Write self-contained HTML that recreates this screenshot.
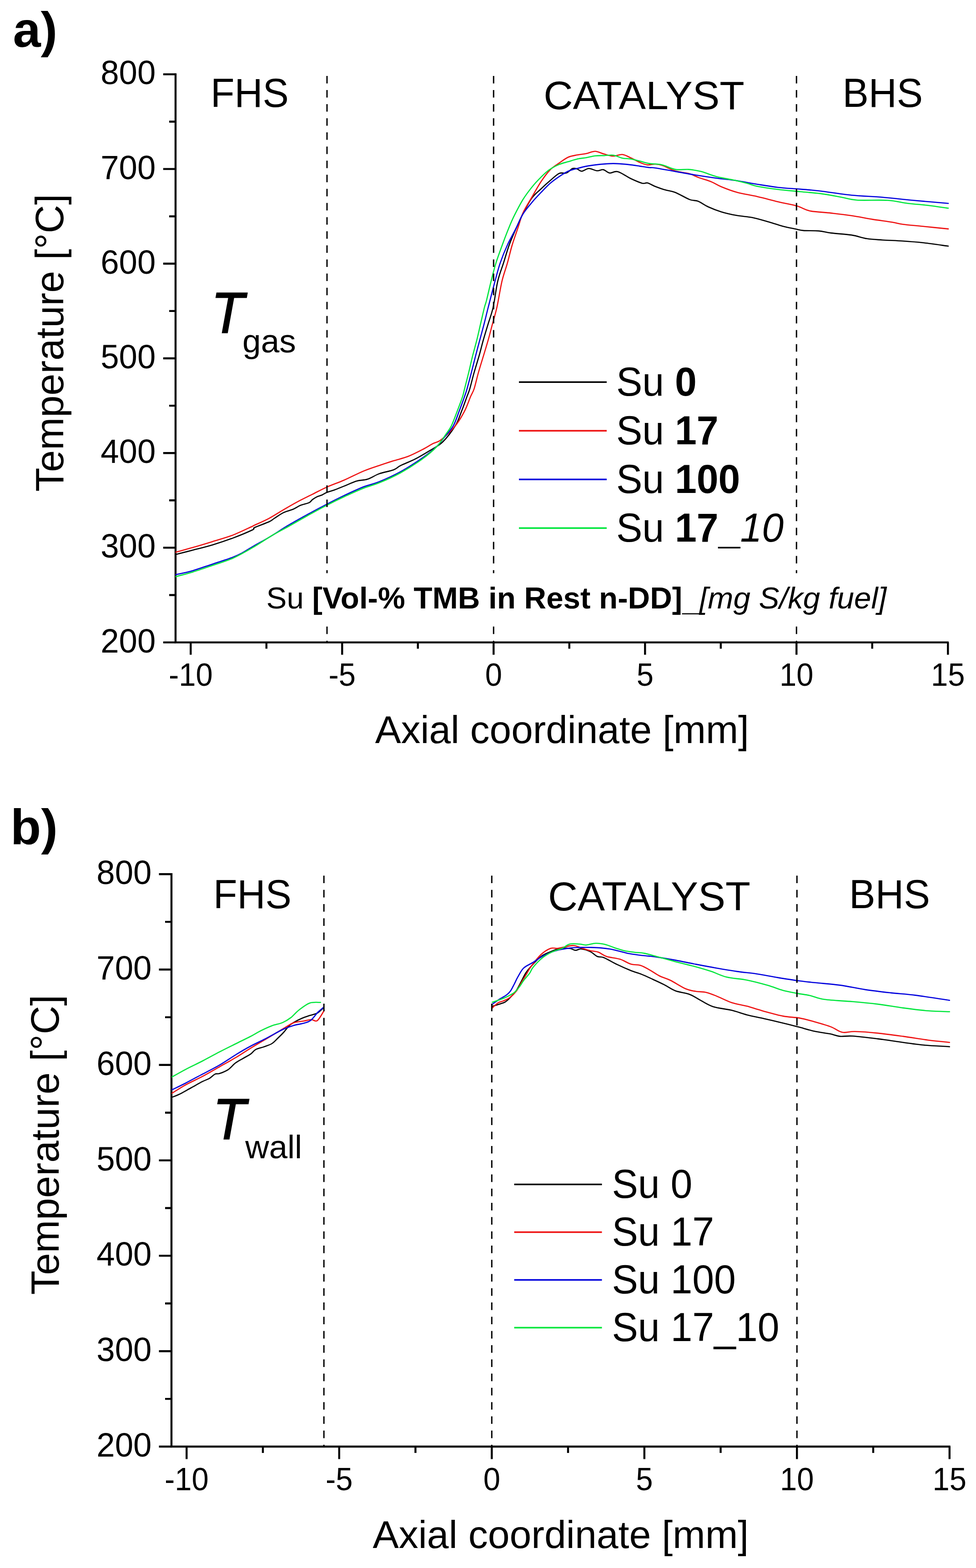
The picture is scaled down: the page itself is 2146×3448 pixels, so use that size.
<!DOCTYPE html>
<html><head><meta charset="utf-8"><title>Temperature profiles</title>
<style>html,body{margin:0;padding:0;background:#fff;}svg{display:block;}text{font-family:"Liberation Sans",Arial,sans-serif;fill:#000;}</style>
</head><body>
<svg width="2146" height="3448" viewBox="0 0 2146 3448">
<rect width="2146" height="3448" fill="#fff"/>
<text x="28.4" y="102.5" font-size="110" font-weight="bold">a)</text>
<path d="M386,161.3V1414.6M384,1412.6H2085.9" stroke="#000" stroke-width="4.4" fill="none"/>
<path d="M358.8,1412.6H386M358.8,1204.4H386M358.8,996.2H386M358.8,788H386M358.8,579.8H386M358.8,371.6H386M358.8,163.4H386M372,1308.5H386M372,1100.3H386M372,892.1H386M372,683.9H386M372,475.7H386M372,267.5H386M419.3,1412.6V1439.8M752.3,1412.6V1439.8M1085.3,1412.6V1439.8M1418.3,1412.6V1439.8M1751.3,1412.6V1439.8M2084.3,1412.6V1439.8M585.8,1412.6V1426.6M918.8,1412.6V1426.6M1251.8,1412.6V1426.6M1584.8,1412.6V1426.6M1917.8,1412.6V1426.6" stroke="#000" stroke-width="4.4" fill="none"/>
<text transform="translate(342.3,1434.6) scale(1,1.02)" text-anchor="end" font-size="72.6">200</text>
<text transform="translate(342.3,1226.4) scale(1,1.02)" text-anchor="end" font-size="72.6">300</text>
<text transform="translate(342.3,1018.2) scale(1,1.02)" text-anchor="end" font-size="72.6">400</text>
<text transform="translate(342.3,810) scale(1,1.02)" text-anchor="end" font-size="72.6">500</text>
<text transform="translate(342.3,601.8) scale(1,1.02)" text-anchor="end" font-size="72.6">600</text>
<text transform="translate(342.3,393.6) scale(1,1.02)" text-anchor="end" font-size="72.6">700</text>
<text transform="translate(342.3,185.4) scale(1,1.02)" text-anchor="end" font-size="72.6">800</text>
<text transform="translate(419.3,1507.5) scale(1,1.06)" text-anchor="middle" font-size="67">-10</text>
<text transform="translate(752.3,1507.5) scale(1,1.06)" text-anchor="middle" font-size="67">-5</text>
<text transform="translate(1085.3,1507.5) scale(1,1.06)" text-anchor="middle" font-size="67">0</text>
<text transform="translate(1418.3,1507.5) scale(1,1.06)" text-anchor="middle" font-size="67">5</text>
<text transform="translate(1751.3,1507.5) scale(1,1.06)" text-anchor="middle" font-size="67">10</text>
<text transform="translate(2084.3,1507.5) scale(1,1.06)" text-anchor="middle" font-size="67">15</text>
<path d="M386.5,1219.3C392.7,1217.7 410.1,1213.3 423.6,1209.8C437.1,1206.3 452.7,1202.6 467.3,1198.2C481.9,1193.8 496.4,1189 511,1183.6C525.5,1178.1 546.4,1169.4 554.6,1165.5C562.8,1161.6 553.8,1163 560,1160C566.2,1157 584.5,1150.5 591.7,1147.2C598.9,1143.9 597.7,1143.3 603,1140C608.3,1136.7 616.5,1130.5 623.5,1127.1C630.5,1123.7 638.5,1122.3 644.7,1119.7C650.9,1117.1 654.7,1113.7 660.5,1111.3C666.3,1108.9 675.2,1107.5 679.6,1105.4C684,1103.3 684,1100.8 687,1098.6C690,1096.4 694.1,1093.9 697.6,1092.2C701.1,1090.5 704.4,1090.1 708,1088.5C711.6,1086.9 714.6,1084.4 719.2,1082.5C723.8,1080.6 729.5,1079.5 735.8,1077.2C742,1074.9 748.6,1072.1 756.7,1068.9C764.8,1065.7 775.9,1060.3 784.4,1057.8C792.9,1055.3 799.8,1056.4 808,1053.8C816.2,1051.2 824,1045.3 833.5,1041.9C843,1038.5 857.3,1036.2 865.2,1033.2C873.1,1030.2 873,1027.7 881,1023.7C889,1019.7 902.3,1014.8 912.9,1009.4C923.5,1004 934.5,997.3 944.6,991.1C954.7,984.9 963.8,981.1 973.2,972C982.6,962.9 994,947.6 1001,936.3C1008,925 1010.6,914.9 1014.9,904.2C1019.2,893.5 1023.7,880.3 1026.7,872.1C1029.7,863.9 1030.4,863.6 1033,854.8C1035.6,845.9 1039.1,830.9 1042.5,819C1045.9,807.1 1049.8,795.1 1053.2,783.2C1056.6,771.3 1059.4,759.3 1062.8,747.4C1066.2,735.5 1069.9,723.5 1073.5,711.6C1077.1,699.7 1080.8,691.3 1084.3,675.8C1087.8,660.3 1090.6,634.6 1094.4,618.4C1098.2,602.2 1102.8,591.9 1107,578.7C1111.2,565.5 1114.7,552.2 1119.5,539C1124.3,525.8 1130.9,511 1136,499.4C1141.1,487.8 1144.4,480.2 1150,469.5C1155.6,458.8 1163.2,444.1 1169.8,435C1176.4,425.9 1183.1,421.5 1189.7,415.2C1196.3,408.9 1202.9,402.9 1209.5,397.3C1216.1,391.7 1223.5,384.2 1229.4,381.4C1235.4,378.6 1240.2,382.2 1245.2,380.4C1250.2,378.6 1255.1,372 1259.1,370.5C1263.1,369 1265.7,370.5 1269,371.5C1272.3,372.5 1274.7,376.7 1279,376.5C1283.3,376.3 1289.2,370.7 1294.8,370.5C1300.4,370.3 1307.4,375.1 1312.7,375.5C1318,375.9 1322,372.3 1326.6,373.1C1331.2,373.9 1335.2,379.7 1340.5,380.4C1345.8,381.1 1350.4,375.4 1358.3,377.5C1366.2,379.6 1379.2,389.1 1388.1,393.3C1397,397.5 1406,401.4 1411.9,402.9C1417.9,404.4 1419.1,401.2 1423.8,402.3C1428.5,403.4 1433.5,407.1 1440,409.7C1446.5,412.2 1455,415.4 1462.5,417.6C1470,419.9 1476,419.6 1485,423.2C1494,426.8 1508.3,435.7 1516.5,438.9C1524.7,442.1 1527.7,439.7 1534.4,442.3C1541.1,444.9 1548.3,450.8 1556.9,454.7C1565.5,458.6 1575.7,462.7 1586.2,465.9C1596.7,469.1 1608.7,471.7 1619.9,473.8C1631.1,475.9 1642.3,476.1 1653.6,478.3C1664.8,480.6 1676.2,484.1 1687.4,487.3C1698.7,490.5 1710.6,494.7 1721.1,497.4C1731.6,500.1 1742.8,502.1 1750.3,503.7C1757.8,505.3 1757.7,506.2 1766.1,506.9C1774.5,507.6 1790.3,507 1800.5,507.9C1810.7,508.8 1815.5,510.9 1827.5,512.4C1839.5,513.9 1859.3,514.8 1872.4,516.9C1885.5,519 1895,523 1906.2,524.8C1917.5,526.6 1926.8,526.8 1939.9,527.7C1953,528.6 1969.9,529 1984.9,530C1999.9,531 2013.1,531.9 2029.8,533.8C2046.5,535.7 2075.8,540 2085,541.2" stroke="#000000" stroke-width="2.6" fill="none" stroke-linejoin="round" stroke-linecap="round"/>
<path d="M386.5,1214.2C392.7,1212.5 410.1,1207.9 423.6,1204C437.1,1200.1 452.7,1195.4 467.3,1190.9C481.9,1186.4 496.4,1182.7 511,1177.1C525.5,1171.5 546.4,1161.2 554.6,1157.5C562.8,1153.8 553.8,1157.7 560,1154.7C566.2,1151.8 581.1,1145.5 591.7,1139.8C602.3,1134.1 612.9,1127 623.5,1120.8C634.1,1114.6 644.6,1108.4 655.2,1102.8C665.8,1097.2 676.4,1092.2 687,1086.9C697.6,1081.6 707.1,1076.3 718.7,1071.1C730.3,1065.9 743.2,1061.6 756.7,1055.7C770.2,1049.8 787.2,1040.9 800,1035.6C812.8,1030.3 822.6,1027.4 833.5,1023.7C844.4,1020 854.6,1016.6 865.2,1013.3C875.8,1010 886.4,1007.9 897,1003.8C907.6,999.7 919.5,993.5 928.7,988.7C938,983.9 945.6,978.8 952.5,975.2C959.4,971.6 961.9,973.5 970,967C978.1,960.5 992.6,946.8 1001.2,936.3C1009.8,925.8 1015.8,914.9 1021.4,904.2C1027,893.5 1031.2,880.3 1034.7,872.1C1038.2,863.9 1039.6,863.6 1042.5,854.8C1045.4,845.9 1048.6,830.9 1052,819C1055.4,807.1 1059.2,795.1 1062.8,783.2C1066.4,771.3 1070.1,759.3 1073.5,747.4C1076.9,735.5 1079.8,723.5 1083,711.6C1086.2,699.7 1089.1,691.3 1092.6,675.8C1096,660.3 1099.9,634.6 1103.7,618.4C1107.5,602.2 1111.9,591.9 1115.6,578.7C1119.3,565.5 1122.1,552.2 1126.1,539C1130.1,525.8 1135.4,511.2 1139.4,499.4C1143.4,487.6 1144.9,479.1 1150,468C1155.1,456.9 1163.2,444.4 1169.8,433C1176.4,421.6 1183.1,409.2 1189.7,399.3C1196.3,389.4 1202.9,380.3 1209.5,373.5C1216.1,366.7 1222.8,363.2 1229.4,358.6C1236,354 1242.6,348.7 1249.2,345.7C1255.8,342.7 1262.4,342.1 1269,340.8C1275.6,339.5 1282.3,339.1 1288.9,337.8C1295.5,336.5 1302.1,332.6 1308.7,332.8C1315.3,333 1322,337.1 1328.6,338.8C1335.2,340.6 1341.8,343.1 1348.4,343.3C1355,343.5 1361.7,339.1 1368.3,339.8C1374.9,340.5 1381.5,344.7 1388.1,347.7C1394.7,350.7 1402,355.1 1407.9,357.6C1413.9,360.1 1418.5,362 1423.8,362.6C1429.1,363.2 1434.7,360.8 1440,361C1445.3,361.2 1448.2,361.1 1455.7,363.6C1463.2,366.1 1475.2,373 1485,376C1494.8,379 1505.6,379.2 1514.2,381.6C1522.8,384 1528.5,387.6 1536.7,390.6C1545,393.6 1555.5,396.2 1563.7,399.6C1572,403 1576.8,406.9 1586.2,410.8C1595.6,414.7 1606.8,419.2 1619.9,422.8C1633,426.4 1649.9,428.8 1664.9,432.2C1679.9,435.6 1695.6,440 1709.8,443.4C1724,446.8 1741.9,450.3 1750.3,452.4C1758.7,454.5 1754.6,453.9 1760,455.8C1765.4,457.8 1771.2,462 1782.5,464.1C1793.8,466.2 1812.5,466.9 1827.5,468.6C1842.5,470.3 1857.4,471.9 1872.4,474.2C1887.4,476.4 1902.4,479.7 1917.4,482.1C1932.4,484.5 1951.2,486.9 1962.4,488.8C1973.7,490.7 1973.7,491.8 1984.9,493.3C1996.1,494.8 2013.1,496.1 2029.8,497.8C2046.5,499.5 2075.8,502.5 2085,503.4" stroke="#ee1111" stroke-width="2.6" fill="none" stroke-linejoin="round" stroke-linecap="round"/>
<path d="M386.5,1263.7C392.7,1262.2 410.1,1258.8 423.6,1254.9C437.1,1251 452.7,1245.2 467.3,1240.4C481.9,1235.6 500.1,1229.9 511,1225.8C521.9,1221.7 525.5,1219.6 532.8,1215.7C540.1,1211.8 544.4,1208.5 554.6,1202.6C564.8,1196.6 581.4,1187.7 594.2,1180C607.1,1172.3 618.5,1164.3 631.7,1156.4C644.9,1148.5 659.4,1140.4 673.3,1132.8C687.2,1125.2 701.1,1117.8 715,1110.6C728.9,1103.4 742.5,1096.4 756.7,1089.7C770.9,1083 787.2,1075.3 800,1070.3C812.8,1065.2 820,1064.9 833.5,1059.4C847,1053.9 865.1,1045.8 881,1037.1C896.9,1028.4 915.5,1016.2 928.7,1007C942,997.8 952.6,989 960.5,981.6C968.4,974.2 970.3,970 976.3,962.5C982.3,955 991.2,946 996.7,936.3C1002.2,926.6 1005.5,914.9 1009.6,904.2C1013.7,893.5 1018.5,880.3 1021.4,872.1C1024.3,863.9 1024.5,863.6 1027,854.8C1029.5,845.9 1033.4,830.9 1036.5,819C1039.6,807.1 1042.4,795.1 1045.5,783.2C1048.6,771.3 1051.8,759.3 1055,747.4C1058.2,735.5 1061.5,723.5 1064.6,711.6C1067.7,699.7 1069.5,691.3 1073.5,675.8C1077.5,660.3 1084,634.6 1088.4,618.4C1092.8,602.2 1095.2,591.9 1099.7,578.7C1104.2,565.5 1109.5,552.2 1115.6,539C1121.6,525.8 1130.3,510.8 1136,499.4C1141.7,488 1144.4,479.6 1150,470.5C1155.6,461.4 1163.2,452.8 1169.8,444.9C1176.4,437 1183.1,430 1189.7,423.1C1196.3,416.2 1202.9,409.1 1209.5,403.3C1216.1,397.5 1222.8,392.9 1229.4,388.4C1236,383.9 1242.6,379.5 1249.2,376.5C1255.8,373.5 1262.4,372.3 1269,370.5C1275.6,368.7 1282.3,366.9 1288.9,365.6C1295.5,364.3 1302.1,363.4 1308.7,362.6C1315.3,361.8 1322,361.1 1328.6,360.6C1335.2,360.1 1341.8,359.6 1348.4,359.6C1355,359.6 1361.7,360.1 1368.3,360.6C1374.9,361.1 1381.5,361.8 1388.1,362.6C1394.7,363.4 1401.3,364.6 1407.9,365.6C1414.5,366.6 1422.5,367.9 1427.8,368.5C1433.1,369.1 1430.5,367.8 1440,369.2C1449.5,370.6 1470,374.5 1485,377.1C1500,379.7 1515,382.6 1530,385C1545,387.4 1559.9,389.6 1574.9,391.7C1589.9,393.8 1604.9,395.1 1619.9,397.3C1634.9,399.6 1649.9,402.8 1664.9,405.2C1679.9,407.6 1695.6,410.3 1709.8,412C1724,413.7 1738.6,414.4 1750.3,415.3C1762,416.2 1770.9,416.8 1780,417.6C1789.1,418.4 1789.6,418.3 1805,420.2C1820.4,422.1 1849.9,426.9 1872.4,429.2C1894.9,431.4 1917.4,431.8 1939.9,433.7C1962.4,435.6 1983.2,438.2 2007.4,440.5C2031.6,442.8 2072.1,446.1 2085,447.2" stroke="#0000dd" stroke-width="2.6" fill="none" stroke-linejoin="round" stroke-linecap="round"/>
<path d="M386.5,1268C392.7,1266.3 410.1,1262 423.6,1257.9C437.1,1253.8 452.7,1248.3 467.3,1243.3C481.9,1238.3 496.4,1234.4 511,1228C525.5,1221.6 539.8,1213.3 554.6,1204.7C569.4,1196.1 587.1,1184 600,1176.4C612.9,1168.8 619.5,1165.8 631.7,1159C643.9,1152.2 659.4,1143.2 673.3,1135.5C687.2,1127.8 701.1,1120 715,1112.8C728.9,1105.6 742.5,1098.9 756.7,1092.3C770.9,1085.7 787.2,1078.4 800,1073.3C812.8,1068.2 820,1067.4 833.5,1061.8C847,1056.2 865.1,1048.3 881,1039.5C896.9,1030.7 915.5,1018.8 928.7,1009.2C942,999.6 952,990.8 960.5,982C969,973.2 974.2,963.8 979.5,956.2C984.8,948.6 988.2,945 992.5,936.3C996.8,927.6 1001.2,914.9 1005.3,904.2C1009.4,893.5 1014.4,880.3 1017.1,872.1C1019.8,863.9 1019.2,863.6 1021.5,854.8C1023.8,845.9 1027.7,830.9 1030.6,819C1033.5,807.1 1036,795.1 1039,783.2C1042,771.3 1045.5,759.3 1048.5,747.4C1051.5,735.5 1054,723.5 1056.8,711.6C1059.6,699.7 1063,684.4 1065.2,675.8C1067.4,667.2 1067.5,669.6 1069.9,660C1072.3,650.4 1076.4,631.9 1079.8,618.4C1083.2,604.9 1086.3,591.9 1090.4,578.7C1094.5,565.5 1099.5,552.2 1104.3,539C1109.1,525.8 1115,510.4 1119.5,499.4C1124,488.4 1126.3,483 1131.4,472.9C1136.5,462.8 1143.6,448.8 1150,438.5C1156.4,428.2 1163.2,419.4 1169.8,411.2C1176.4,403 1183.4,395.7 1189.7,389.4C1196,383.1 1200.9,378.1 1207.5,373.5C1214.1,368.9 1222.5,364.6 1229.4,361.6C1236.4,358.6 1242.6,357.6 1249.2,355.6C1255.8,353.6 1262.4,351.2 1269,349.7C1275.6,348.2 1282.3,347.9 1288.9,346.7C1295.5,345.5 1302.1,343.5 1308.7,342.7C1315.3,341.9 1322,342.3 1328.6,342.1C1335.2,341.9 1341.8,340.4 1348.4,341.3C1355,342.2 1361.7,346.3 1368.3,347.7C1374.9,349.1 1381.5,348.5 1388.1,349.7C1394.7,350.9 1401.3,353 1407.9,354.6C1414.5,356.2 1419.8,358.3 1427.8,359.6C1435.8,360.9 1446.2,360.3 1455.7,362.5C1465.2,364.7 1475.2,370.9 1485,372.6C1494.8,374.3 1504.8,371.9 1514.2,372.6C1523.6,373.4 1531.1,374.5 1541.2,377.1C1551.3,379.7 1563.7,385.3 1574.9,388.3C1586.2,391.3 1597.5,392.7 1608.7,395.1C1620,397.6 1633,400.6 1642.4,403C1651.8,405.4 1653.7,407.4 1664.9,409.7C1676.1,411.9 1694,414.5 1709.8,416.5C1725.6,418.5 1744.1,419.9 1760,421.5C1775.9,423.1 1790,423.9 1805,425.9C1820,427.9 1836.9,431.3 1850,433.7C1863.1,436.1 1866.9,438.9 1883.7,440C1900.5,441.1 1932.4,439.3 1951.1,440.5C1969.8,441.7 1981.1,445.3 1996.1,447.2C2011.1,449.1 2026.3,449.9 2041.1,451.7C2055.9,453.5 2077.7,456.8 2085,457.8" stroke="#00e63c" stroke-width="2.6" fill="none" stroke-linejoin="round" stroke-linecap="round"/>
<path d="M719,166.9V1411" stroke="#000" stroke-width="3" stroke-dasharray="16.5 14.55" fill="none"/>
<path d="M1085.3,166.9V1411" stroke="#000" stroke-width="3" stroke-dasharray="16.5 14.55" fill="none"/>
<path d="M1751.3,166.9V1411" stroke="#000" stroke-width="3" stroke-dasharray="16.5 14.55" fill="none"/>
<text transform="translate(462.9,234.8) scale(1,1.03)" font-size="86">FHS</text>
<text transform="translate(1195.3,239.7) scale(1,1.02)" font-size="86" textLength="441.5" lengthAdjust="spacingAndGlyphs">CATALYST</text>
<text transform="translate(1852.4,235.2) scale(1,1.03)" font-size="86">BHS</text>
<text transform="translate(139.4,753.8) rotate(-90)" text-anchor="middle" font-size="86.5">Temperature [°C]</text>
<text x="824.8" y="1634.3" font-size="85.5">Axial coordinate [mm]</text>
<text transform="translate(464.4,731.1) scale(1,1.075)" font-size="118" font-style="italic" stroke="#000" stroke-width="2.2" stroke-linejoin="miter">T</text>
<text x="533.1" y="774.6" font-size="73">gas</text>
<path d="M1141,840.2H1334" stroke="#000000" stroke-width="3.5"/>
<text transform="translate(1354.9,869.6) scale(1,1.04)" font-size="86" xml:space="preserve">Su <tspan font-weight="bold">0</tspan></text>
<path d="M1141,947.2H1334" stroke="#ee1111" stroke-width="3.5"/>
<text transform="translate(1354.9,976.6) scale(1,1.04)" font-size="86" xml:space="preserve">Su <tspan font-weight="bold">17</tspan></text>
<path d="M1141,1054.2H1334" stroke="#0000dd" stroke-width="3.5"/>
<text transform="translate(1354.9,1083.6) scale(1,1.04)" font-size="86" xml:space="preserve">Su <tspan font-weight="bold">100</tspan></text>
<path d="M1141,1161.2H1334" stroke="#00e63c" stroke-width="3.5"/>
<text transform="translate(1354.9,1190.6) scale(1,1.04)" font-size="86" xml:space="preserve">Su <tspan font-weight="bold">17</tspan><tspan font-weight="bold" dy="3.8">_</tspan><tspan font-style="italic" dy="-3.8">10</tspan></text>
<rect x="575" y="1260.4" width="1395" height="116.6" fill="#fff"/>
<text x="585.5" y="1337.8" font-size="67.3" xml:space="preserve">Su <tspan font-weight="bold">[Vol-% TMB in Rest n-DD]</tspan><tspan font-weight="bold" dy="5">_</tspan><tspan font-style="italic" dy="-5">[mg S/kg fuel]</tspan></text>
<text x="23" y="1856" font-size="110" font-weight="bold">b)</text>
<path d="M377,1920V3183M375,3181H2089.7" stroke="#000" stroke-width="4.4" fill="none"/>
<path d="M349.5,3181H377M349.5,2971.2H377M349.5,2761.4H377M349.5,2551.6H377M349.5,2341.8H377M349.5,2132H377M349.5,1922.2H377M363,3076.1H377M363,2866.3H377M363,2656.5H377M363,2446.7H377M363,2236.9H377M363,2027.1H377M410.3,3181V3208.5M745.8,3181V3208.5M1081.3,3181V3208.5M1416.8,3181V3208.5M1752.3,3181V3208.5M2087.8,3181V3208.5M578,3181V3195M913.5,3181V3195M1249,3181V3195M1584.5,3181V3195M1920,3181V3195" stroke="#000" stroke-width="4.4" fill="none"/>
<text transform="translate(333.4,3203) scale(1,1.02)" text-anchor="end" font-size="72.6">200</text>
<text transform="translate(333.4,2993.2) scale(1,1.02)" text-anchor="end" font-size="72.6">300</text>
<text transform="translate(333.4,2783.4) scale(1,1.02)" text-anchor="end" font-size="72.6">400</text>
<text transform="translate(333.4,2573.6) scale(1,1.02)" text-anchor="end" font-size="72.6">500</text>
<text transform="translate(333.4,2363.8) scale(1,1.02)" text-anchor="end" font-size="72.6">600</text>
<text transform="translate(333.4,2154) scale(1,1.02)" text-anchor="end" font-size="72.6">700</text>
<text transform="translate(333.4,1944.2) scale(1,1.02)" text-anchor="end" font-size="72.6">800</text>
<text transform="translate(410.3,3277) scale(1,1.06)" text-anchor="middle" font-size="67">-10</text>
<text transform="translate(745.8,3277) scale(1,1.06)" text-anchor="middle" font-size="67">-5</text>
<text transform="translate(1081.3,3277) scale(1,1.06)" text-anchor="middle" font-size="67">0</text>
<text transform="translate(1416.8,3277) scale(1,1.06)" text-anchor="middle" font-size="67">5</text>
<text transform="translate(1752.3,3277) scale(1,1.06)" text-anchor="middle" font-size="67">10</text>
<text transform="translate(2087.8,3277) scale(1,1.06)" text-anchor="middle" font-size="67">15</text>
<path d="M378.2,2412.8C381,2411.7 388.1,2409.4 395.1,2405.9C402.1,2402.4 411.9,2396.6 420.3,2392C428.7,2387.4 438.7,2381.6 445.4,2378.2C452.1,2374.8 455.9,2374 460.5,2371.3C465.1,2368.6 469.2,2363.7 473,2361.9C476.8,2360.1 478.3,2362.3 483.1,2360.6C487.9,2358.9 496.4,2355.6 502,2351.8C507.6,2348 511.8,2342 517,2338C522.2,2334 527.7,2331.3 533.4,2328C539.1,2324.7 546.2,2321.2 551,2317.9C555.8,2314.6 557.1,2310.7 561.9,2308.1C566.7,2305.5 573.8,2304.3 579.8,2302.1C585.8,2299.9 592.6,2298 597.6,2295C602.6,2292 605.1,2288.5 609.5,2284.3C613.9,2280.1 619.4,2274.8 623.8,2270C628.2,2265.2 631.7,2259.5 635.7,2255.7C639.7,2251.9 642.8,2250.2 647.6,2247.4C652.4,2244.6 658.7,2241.4 664.3,2239C669.9,2236.6 676.8,2234.5 681,2233.1C685.2,2231.7 686.3,2231.7 689.3,2230.7C692.3,2229.7 695.1,2229.5 698.8,2227.1C702.5,2224.7 709.4,2217.8 711.5,2216" stroke="#000000" stroke-width="2.6" fill="none" stroke-linejoin="round" stroke-linecap="round"/>
<path d="M1082.4,2212.7C1085.2,2211.9 1094.4,2209.3 1099.1,2207.7C1103.8,2206.1 1107.1,2205.5 1110.7,2203.3C1114.3,2201.1 1116.8,2198.8 1120.9,2194.6C1125,2190.3 1131.6,2183.3 1135.5,2177.8C1139.4,2172.3 1140.8,2168.1 1144.2,2161.8C1147.6,2155.5 1152.2,2145.8 1155.8,2140C1159.4,2134.2 1160.4,2132.9 1166,2126.8C1171.6,2120.7 1181.9,2109.2 1189.3,2103.5C1196.7,2097.8 1203.4,2095.9 1210.4,2092.9C1217.5,2089.9 1224.5,2086.7 1231.6,2085.5C1238.7,2084.3 1247.2,2084.8 1252.8,2085.5C1258.4,2086.2 1261.2,2089.5 1265.4,2089.7C1269.6,2089.9 1272.7,2086.1 1278.1,2086.6C1283.5,2087.1 1292,2089.8 1297.9,2092.6C1303.8,2095.4 1308.3,2101.1 1313.3,2103.3C1318.2,2105.5 1320.2,2102.7 1327.6,2105.7C1334.9,2108.7 1347.5,2116.4 1357.4,2121.2C1367.3,2126 1378.2,2130.7 1387.1,2134.3C1396,2137.9 1403,2139.4 1411,2142.6C1419,2145.8 1426.6,2149.5 1434.8,2153.3C1443,2157.1 1451.6,2160.9 1460,2165.2C1468.4,2169.4 1475.6,2175.2 1485,2178.8C1494.4,2182.4 1507.1,2183.1 1516.5,2186.7C1525.9,2190.3 1532.6,2195.7 1541.2,2200.2C1549.8,2204.7 1557,2210.1 1568.2,2213.7C1579.5,2217.3 1596.3,2218.6 1608.7,2221.6C1621.1,2224.6 1630.5,2228.6 1642.4,2231.7C1654.3,2234.8 1666.8,2237 1680,2240C1693.2,2243 1709.2,2246.7 1721.7,2249.7C1734.2,2252.7 1743.4,2255.1 1755,2258.1C1766.6,2261.1 1779.5,2265.3 1791.1,2267.8C1802.7,2270.3 1815.1,2271.5 1824.4,2273.3C1833.7,2275.2 1838.4,2278.1 1846.7,2278.9C1855,2279.7 1860.5,2277.4 1874.4,2278.3C1888.3,2279.2 1911.5,2282.1 1930,2284.4C1948.5,2286.7 1969.4,2290 1985.6,2292.2C2001.8,2294.4 2010.2,2296.2 2027.2,2297.8C2044.2,2299.4 2077.7,2301 2087.8,2301.7" stroke="#000000" stroke-width="2.6" fill="none" stroke-linejoin="round" stroke-linecap="round"/>
<path d="M378.2,2404C383.1,2401 396.5,2392 407.7,2385.8C418.9,2379.6 432.8,2373.6 445.4,2366.9C458,2360.2 470.5,2352.7 483.1,2345.6C495.7,2338.5 509.6,2330.8 520.8,2324.2C531.9,2317.5 539.2,2312.3 550,2305.7C560.8,2299 573.8,2291.4 585.7,2284.3C597.6,2277.2 611.5,2268.8 621.4,2262.9C631.3,2257.1 637.3,2252.2 645.2,2249.2C653.1,2246.2 662.5,2246.2 669,2245C675.5,2243.8 679.7,2242.1 684.5,2242C689.3,2241.9 692.9,2247.7 697.6,2244.4C702.3,2241.1 710,2226.1 712.5,2222.4" stroke="#ee1111" stroke-width="2.6" fill="none" stroke-linejoin="round" stroke-linecap="round"/>
<path d="M1082.4,2216.4C1084.5,2214.6 1090.7,2208.1 1094.7,2205.5C1098.7,2202.9 1102,2203 1106.4,2201.1C1110.8,2199.2 1116.1,2197.4 1120.9,2193.8C1125.8,2190.2 1131.4,2184.6 1135.5,2179.3C1139.6,2174 1141.8,2168.4 1145.7,2161.8C1149.6,2155.2 1155.1,2146.2 1158.8,2140C1162.5,2133.8 1163,2131.5 1168.1,2124.7C1173.2,2117.9 1182.2,2105.8 1189.3,2099.3C1196.3,2092.8 1204.4,2087.8 1210.4,2085.5C1216.4,2083.2 1219.9,2086 1225.2,2085.5C1230.5,2085 1236.2,2083.4 1242.2,2082.3C1248.2,2081.2 1255.2,2078.8 1261.2,2079.2C1267.2,2079.5 1272,2082.5 1278.1,2084.4C1284.2,2086.3 1291.7,2088.9 1298,2090.5C1304.3,2092.1 1309.8,2091.7 1315.7,2093.8C1321.6,2095.9 1325.7,2100.7 1333.6,2103.3C1341.5,2105.9 1354.4,2106.5 1363.3,2109.3C1372.2,2112.1 1379.5,2117.7 1387.1,2120C1394.6,2122.3 1401.6,2120.8 1408.6,2123C1415.5,2125.2 1421.9,2129.3 1428.8,2133.1C1435.7,2136.9 1442.5,2142.3 1450,2146C1457.5,2149.7 1464.1,2150.8 1473.7,2155.5C1483.3,2160.2 1498.1,2170.2 1507.5,2174.3C1516.9,2178.4 1522.5,2178.7 1530,2180C1537.5,2181.3 1544.9,2180.5 1552.4,2182.2C1559.9,2183.9 1565.5,2186.3 1574.9,2190.1C1584.3,2193.8 1597.5,2200.9 1608.7,2204.7C1620,2208.4 1631.2,2209.6 1642.4,2212.6C1653.6,2215.6 1662.9,2219.1 1676.1,2222.7C1689.3,2226.3 1708.1,2231.8 1721.7,2234.4C1735.3,2237.1 1746.2,2236.5 1757.8,2238.6C1769.4,2240.7 1779.5,2243.7 1791.1,2246.9C1802.7,2250.2 1817,2254.2 1827.2,2258.1C1837.4,2261.9 1843.4,2268.3 1852.2,2270C1861,2271.7 1867,2268 1880,2268.3C1893,2268.6 1912.4,2270.1 1930,2271.9C1947.6,2273.7 1967.1,2276.4 1985.6,2278.9C2004.1,2281.4 2024.1,2285 2041.1,2287.2C2058.1,2289.4 2080,2291.4 2087.8,2292.2" stroke="#ee1111" stroke-width="2.6" fill="none" stroke-linejoin="round" stroke-linecap="round"/>
<path d="M378.2,2396.4C383.1,2394 396.5,2387.8 407.7,2382C418.9,2376.2 432.8,2368.6 445.4,2361.9C458,2355.2 470.5,2349.1 483.1,2341.8C495.7,2334.5 509.6,2324.7 520.8,2317.9C531.9,2311.1 539.2,2306.8 550,2301C560.8,2295.2 573.8,2289.3 585.7,2283.1C597.6,2276.9 611.5,2268.7 621.4,2264C631.3,2259.3 637.3,2257.5 645.2,2255.1C653.1,2252.7 662.6,2251.7 669,2249.8C675.4,2247.9 678.3,2247.8 683.3,2243.8C688.3,2239.8 694.2,2230.7 698.8,2226C703.4,2221.3 708.7,2217.5 710.7,2215.8" stroke="#0000dd" stroke-width="2.6" fill="none" stroke-linejoin="round" stroke-linecap="round"/>
<path d="M1082.4,2208.4C1085.2,2206.4 1093.9,2200.1 1099.1,2196.7C1104.3,2193.3 1109.7,2190.9 1113.6,2188C1117.5,2185.1 1119.5,2183.4 1122.4,2179.3C1125.3,2175.2 1128.4,2168.4 1131.1,2163.3C1133.8,2158.2 1135.1,2154.4 1138.4,2148.7C1141.8,2143 1145.6,2134.3 1151.2,2128.9C1156.8,2123.5 1165.2,2120.6 1172.3,2116.2C1179.3,2111.8 1186.4,2106.3 1193.5,2102.4C1200.6,2098.5 1207.7,2095.4 1214.7,2092.9C1221.8,2090.4 1228.8,2089 1235.8,2087.6C1242.8,2086.2 1250,2085.1 1257,2084.4C1264,2083.7 1271,2083.6 1278.1,2083.4C1285.1,2083.2 1292.2,2083.2 1299.3,2083.4C1306.4,2083.6 1313.5,2083.8 1320.5,2084.4C1327.5,2085 1334.5,2085.8 1341.6,2087C1348.6,2088.2 1355.7,2090.2 1362.8,2091.9C1369.9,2093.6 1377,2095.7 1384,2097.1C1391,2098.5 1398,2099.4 1405.1,2100.3C1412.1,2101.2 1420.5,2101.8 1426.3,2102.4C1432.1,2103 1430.2,2102.4 1440,2103.9C1449.8,2105.4 1470,2108.7 1485,2111.4C1500,2114.2 1515,2117.5 1530,2120.4C1545,2123.3 1559.9,2126.1 1574.9,2128.7C1589.9,2131.3 1604.9,2133.9 1619.9,2136.1C1634.9,2138.3 1649.9,2139.4 1664.9,2141.7C1679.9,2143.9 1695.2,2147.2 1709.8,2149.6C1724.4,2152 1739,2154.4 1752.6,2156.3C1766.1,2158.2 1775.4,2159.1 1791.1,2160.8C1806.8,2162.5 1828.2,2163.9 1846.7,2166.4C1865.2,2168.9 1883.7,2173.3 1902.2,2176.1C1920.7,2178.9 1939.3,2181 1957.8,2183.1C1976.3,2185.2 1991.6,2185.8 2013.3,2188.6C2035,2191.4 2075.4,2197.8 2087.8,2199.7" stroke="#0000dd" stroke-width="2.6" fill="none" stroke-linejoin="round" stroke-linecap="round"/>
<path d="M378.2,2368.2C383.1,2365.5 396.5,2357.7 407.7,2351.8C418.9,2345.9 432.8,2339.5 445.4,2333C458,2326.5 470.5,2319.4 483.1,2312.9C495.7,2306.4 509.6,2299.6 520.8,2294C531.9,2288.4 541.2,2284.1 550,2279.5C558.8,2274.9 565.9,2270.4 573.8,2266.4C581.7,2262.4 589.7,2258.7 597.6,2255.7C605.5,2252.7 614.5,2251.6 621.4,2248.6C628.3,2245.6 633.3,2242.5 639.3,2237.9C645.2,2233.3 650.1,2226.6 657.1,2221.2C664.1,2215.8 673,2208.5 681,2205.7C689,2202.9 700.8,2204.5 704.8,2204.3" stroke="#00e63c" stroke-width="2.6" fill="none" stroke-linejoin="round" stroke-linecap="round"/>
<path d="M1082.4,2204C1085.2,2203 1093.9,2200.1 1099.1,2198.2C1104.3,2196.3 1108.3,2195.1 1113.6,2192.4C1118.9,2189.7 1126.2,2186.1 1131.1,2182.2C1135.9,2178.3 1139.3,2173.5 1142.7,2169.1C1146.1,2164.7 1147.8,2160.8 1151.5,2156C1155.2,2151.2 1161.1,2144.9 1164.6,2140C1168.1,2135.1 1167.5,2132.5 1172.3,2126.8C1177.1,2121.1 1186.4,2111.2 1193.5,2105.6C1200.6,2099.9 1207.7,2096.2 1214.7,2092.9C1221.8,2089.6 1229.5,2088.3 1235.8,2085.5C1242.1,2082.7 1246.4,2077.6 1252.8,2076C1259.2,2074.4 1267.9,2075.7 1273.9,2076C1279.9,2076.3 1282.7,2078.4 1288.7,2078.1C1294.7,2077.8 1302.8,2074.5 1309.9,2074.3C1317,2074.1 1324,2075.3 1331.1,2077C1338.1,2078.7 1345.2,2082.1 1352.2,2084.4C1359.2,2086.7 1366.3,2089.2 1373.4,2090.8C1380.5,2092.4 1387.5,2093.1 1394.6,2094C1401.6,2094.9 1408.7,2094.9 1415.7,2096.1C1422.8,2097.3 1425.4,2098.3 1436.9,2101.4C1448.5,2104.5 1469.5,2110.6 1485,2114.7C1500.5,2118.8 1516.9,2122.4 1530,2126C1543.1,2129.6 1552.5,2132.3 1563.7,2136.1C1574.9,2139.8 1584.3,2145.3 1597.4,2148.5C1610.5,2151.7 1627.4,2152.2 1642.4,2155.2C1657.4,2158.2 1674.3,2162.8 1687.4,2166.5C1700.5,2170.2 1710.2,2174.7 1721.1,2177.7C1732,2180.7 1742.8,2182.5 1752.6,2184.4C1762.4,2186.3 1769.9,2186.7 1780,2188.9C1790.1,2191.1 1797.6,2195.5 1813.3,2197.8C1829,2200.1 1855,2200.8 1874.4,2202.5C1893.9,2204.2 1911.5,2205.8 1930,2208.1C1948.5,2210.4 1967.1,2213.9 1985.6,2216.4C2004.1,2218.9 2024.1,2221.4 2041.1,2222.8C2058.1,2224.2 2080,2224.4 2087.8,2224.7" stroke="#00e63c" stroke-width="2.6" fill="none" stroke-linejoin="round" stroke-linecap="round"/>
<path d="M712.2,1925.4V3179" stroke="#000" stroke-width="3" stroke-dasharray="16.7 14.59" fill="none"/>
<path d="M1081.3,1925.4V3179" stroke="#000" stroke-width="3" stroke-dasharray="16.7 14.59" fill="none"/>
<path d="M1752.3,1925.4V3179" stroke="#000" stroke-width="3" stroke-dasharray="16.7 14.59" fill="none"/>
<text transform="translate(469,1996.5) scale(1,1.03)" font-size="86">FHS</text>
<text transform="translate(1205,2001.5) scale(1,1.02)" font-size="86.5" textLength="445" lengthAdjust="spacingAndGlyphs">CATALYST</text>
<text transform="translate(1867,1996.8) scale(1,1.03)" font-size="86.5">BHS</text>
<text transform="translate(128.6,2517.4) rotate(-90)" text-anchor="middle" font-size="87.2">Temperature [°C]</text>
<text x="819.4" y="3404" font-size="86">Axial coordinate [mm]</text>
<text transform="translate(468.2,2503.6) scale(1,1.075)" font-size="118" font-style="italic" stroke="#000" stroke-width="2.2" stroke-linejoin="miter">T</text>
<text x="539.3" y="2547.1" font-size="72.5">wall</text>
<path d="M1130.6,2604.5H1323.5" stroke="#000000" stroke-width="3.5"/>
<text transform="translate(1345.4,2633.9) scale(1,1.04)" font-size="86" xml:space="preserve">Su 0</text>
<path d="M1130.6,2709.5H1323.5" stroke="#ee1111" stroke-width="3.5"/>
<text transform="translate(1345.4,2738.9) scale(1,1.04)" font-size="86" xml:space="preserve">Su 17</text>
<path d="M1130.6,2814.5H1323.5" stroke="#0000dd" stroke-width="3.5"/>
<text transform="translate(1345.4,2843.9) scale(1,1.04)" font-size="86" xml:space="preserve">Su 100</text>
<path d="M1130.6,2919.5H1323.5" stroke="#00e63c" stroke-width="3.5"/>
<text transform="translate(1345.4,2948.9) scale(1,1.04)" font-size="86" xml:space="preserve">Su 17_10</text>
</svg>
</body></html>
